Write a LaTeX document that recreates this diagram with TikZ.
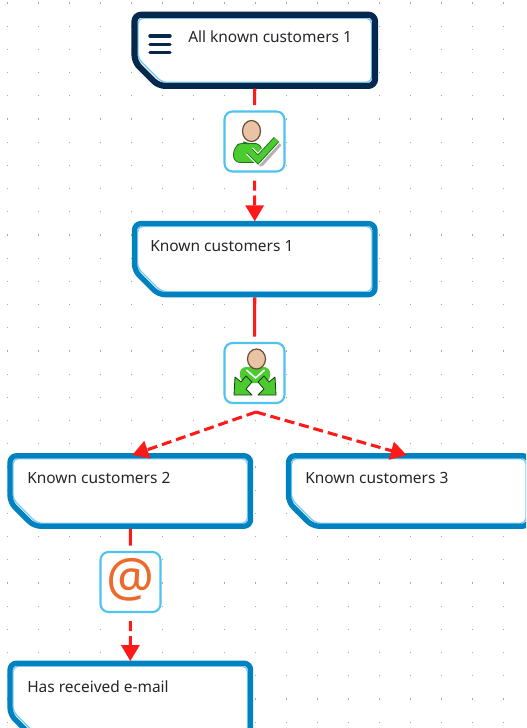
\documentclass[tikz,border=0pt]{standalone}
\usepackage{fontspec}
\setmainfont{Noto Sans}
\usetikzlibrary{arrows.meta,calc}
\definecolor{navy}{HTML}{04294D}
\definecolor{boxblue}{HTML}{0082C0}
\definecolor{iconedge}{HTML}{4FC3EE}
\definecolor{innerblue}{HTML}{7CCBF0}
\definecolor{linkred}{HTML}{FF1A1A}
\definecolor{grn}{HTML}{4CCB30}
\definecolor{grndark}{HTML}{1E6E1A}
\definecolor{skin}{HTML}{E8C4A4}
\definecolor{skindark}{HTML}{6B4A38}
\definecolor{orng}{HTML}{EE6A2C}
\tikzset{
  frame/.style={rectangle,draw=none,inner sep=0pt,anchor=north west},
  lab/.style={anchor=west,inner sep=0pt,font=\fontsize{11.6pt}{13pt}\selectfont,text=black!85},
  iconbox/.style={rectangle,draw=iconedge,fill=white,line width=1.6pt,rounded corners=6pt,minimum width=45pt,minimum height=45pt,inner sep=0pt},
  link/.style={draw=linkred,line width=2.3pt},
  dashlink/.style={link,dash pattern=on 7.5pt off 3.7pt},
  tip/.style={-{Triangle[length=12pt,width=13.5pt,fill=linkred]},shorten >=1.6pt},
}
% outline of a box with cut corner, drawn from a named node: name, colour, inset, stroke
\newcommand{\cutbox}[4]{%
  \draw[draw=innerblue,line width=1pt,fill=white,rounded corners=4pt]
    ($(#1.north west)+(#3,#3)$) -- ($(#1.north east)+(-#3,#3)$) -- ($(#1.south east)+(-#3,-#3)$)
    -- ($(#1.south west)+(#3+24,-#3)$) -- ($(#1.south west)+(#3,-#3-24)$) -- cycle;
  \draw[draw=#2,line width=#4,rounded corners=5pt,line join=round]
    (#1.north west) -- (#1.north east) -- (#1.south east)
    -- ($(#1.south west)+(24,0)$) -- ($(#1.south west)+(0,-24)$) -- cycle;
}
\begin{document}
\begin{tikzpicture}[x=0.75pt,y=-0.75pt]
\useasboundingbox (0,0) rectangle (526,728);
\clip (0,0) rectangle (526,728);
\fill[white] (0,0) rectangle (526,728);
% grid dots
\foreach \i in {0,...,16}{\foreach \j in {0,...,31}{
  \fill[black!35] ({7.7+31*\i-0.6},{3+23.2*\j-0.6}) rectangle +(1.2,1.2);
}}
% frames
\node[frame,minimum width=180pt,minimum height=53pt] (allframe) at (134.5,14.7) {};
\node[frame,minimum width=180pt,minimum height=53pt] (k1frame) at (134.5,223.5) {};
\node[frame,minimum width=180pt,minimum height=52.5pt] (k2frame) at (10,455.7) {};
\node[frame,minimum width=180pt,minimum height=52.5pt] (k3frame) at (288.5,455.7) {};
\node[frame,minimum width=180pt,minimum height=56pt] (hrframe) at (10,663.2) {};
% icons
\node[iconbox] (i1) at (254.5,141.5) {};
\node[iconbox] (i2) at (254.5,373) {};
\node[iconbox] (i3) at (130.5,582) {};
\coordinate (split) at (256,412);
% boxes
\cutbox{allframe}{navy}{3.5}{4.6pt}
\cutbox{k1frame}{boxblue}{3}{4pt}
\cutbox{k2frame}{boxblue}{3}{4pt}
\cutbox{k3frame}{boxblue}{3}{4pt}
\cutbox{hrframe}{boxblue}{3}{4pt}
% connectors
\draw[link,shorten >=4pt,shorten <=2pt] (allframe.south) -- (i1.north);
\draw[dashlink,tip,shorten <=6pt] (i1.south) -- (k1frame.north);
\draw[link,shorten >=4pt,shorten <=2pt] (k1frame.south) -- (i2.north);
\draw[dashlink,tip] (split) -- (k2frame.north);
\draw[dashlink,tip] (split) -- (k3frame.north);
\draw[link,shorten >=4pt,shorten <=2pt] (k2frame.south) -- (i3.north);
\draw[dashlink,tip,shorten <=6pt] (i3.south) -- (hrframe.north);
% labels
\node[lab] (alllab) at (188,37) {All known customers 1};
\node[lab] (k1lab) at (150,246) {Known customers 1};
\node[lab] (k2lab) at (27,478) {Known customers 2};
\node[lab] (k3lab) at (305,478) {Known customers 3};
\node[lab] (hrlab) at (27,687) {Has received e-mail};
% menu glyph
\foreach \yy in {36,44.5,52.5}{
  \draw[navy,line width=2.6pt,line cap=round] (150,\yy) -- (170,\yy);
}
% icon 1: person with check mark
\begin{scope}[shift={(i1.center)}]
  \fill[grn,draw=grndark,line width=0.6pt,rounded corners=5pt] (-21,21) -- (-21,6) -- (-12,0) -- (-5,3) -- (6,1) -- (9,21) -- cycle;
  \draw[skindark,fill=skin,line width=0.9pt] (-3,-10.5) ellipse (9 and 10.5);
  \draw[black!30,line width=6pt,line join=round] (-2,13) -- (6,21) -- (24,1);
  \draw[white,line width=7pt,line join=miter] (-5,9.5) -- (3.5,18) -- (22,-2);
  \draw[grndark,line width=5.4pt] (-5,9.5) -- (3.5,18) -- (22,-2);
  \draw[grn,line width=4pt] (-5,9.5) -- (3.5,18) -- (22,-2);
\end{scope}
% icon 2: person with two arrows
\begin{scope}[shift={(i2.center)}]
  \fill[grn,rounded corners=5pt] (-15,-6) -- (16,-6) -- (15,10) -- (-14,10) -- cycle;
  \draw[skindark,fill=skin,line width=0.9pt] (2,-14) ellipse (9 and 10);
  \draw[white,line width=1.2pt] (-8,-3) -- (1,5) -- (10,-3);
  \foreach \s in {-1,1}{
    \draw[fill=grn,draw=black!70!grn,line width=0.6pt,line join=round]
      (\s*3+0.5,9) -- (\s*9+0.5,3) -- (\s*14+0.5,9) -- (\s*20+0.5,4) -- (\s*21+0.5,22) -- (\s*3+0.5,22) -- (\s*9+0.5,16) -- cycle;
  }
\end{scope}
% icon 3: at sign
\node[inner sep=0pt,text=orng,font=\fontsize{40pt}{40pt}\selectfont\bfseries] (atsign) at ($(i3.center)+(0,-2)$) {@};
\end{tikzpicture}
\end{document}
